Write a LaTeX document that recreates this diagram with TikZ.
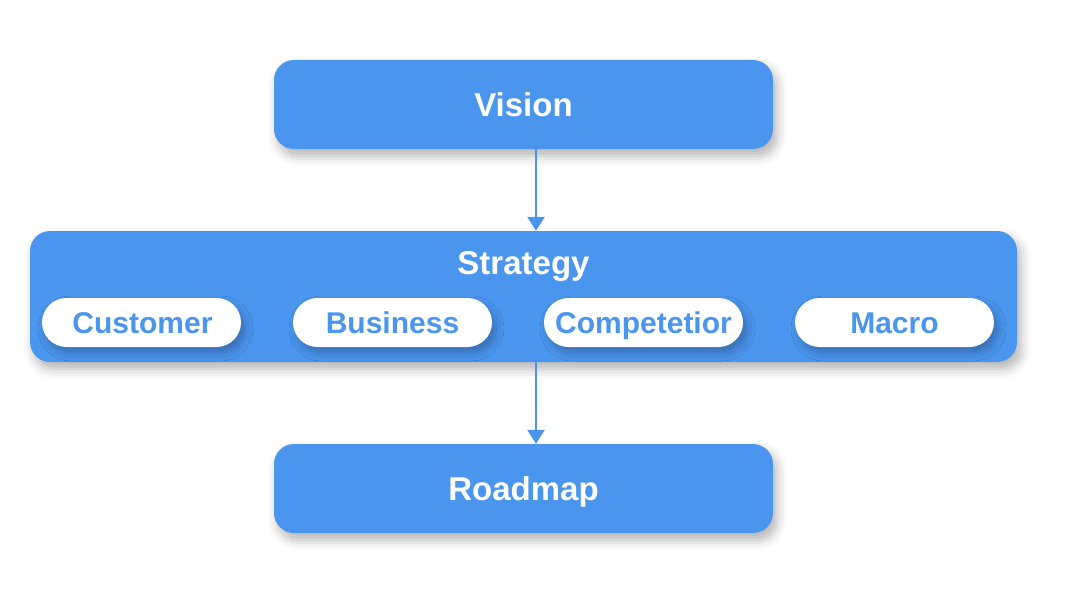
\documentclass[tikz,border=0pt]{standalone}
\usepackage{fontspec}
\setmainfont{Liberation Sans}
\usetikzlibrary{shadows.blur,arrows.meta}
\definecolor{mainblue}{HTML}{4A95EE}
\tikzset{
  bigbox/.style={fill=mainblue, draw=none, rounded corners=20pt, minimum width=499pt, minimum height=89pt,
    blur shadow={shadow xshift=4pt, shadow yshift=-7pt, shadow blur radius=10pt, shadow opacity=30}},
  framebox/.style={fill=mainblue, draw=none, rounded corners=20pt, minimum width=987pt, minimum height=131pt,
    blur shadow={shadow xshift=4pt, shadow yshift=-7pt, shadow blur radius=10pt, shadow opacity=30}},
  pill/.style={fill=white, draw=none, rounded corners=24.5pt, minimum width=199pt, minimum height=49pt,
    blur shadow={shadow xshift=4pt, shadow yshift=-6pt, shadow blur radius=8pt, shadow opacity=25}},
  pilltext/.style={text=mainblue, font=\fontsize{30pt}{34pt}\selectfont\bfseries, inner sep=0pt, anchor=base},
  boxlabel/.style={text=white, font=\fontsize{33pt}{38pt}\selectfont\bfseries, inner sep=0pt, anchor=base},
  flow/.style={draw=mainblue, line width=2.7pt, -{Triangle[width=17pt,length=14pt]}}
}
\begin{document}
\begin{tikzpicture}[x=1pt,y=-1pt]
\useasboundingbox (0,0) rectangle (1071,594);
\node[bigbox] (vision) at (523.5,104.5) {};
\node[boxlabel] (visionlbl) at (523.5,116) {Vision};
\node[framebox] (strategy) at (523.5,296.5) {};
\node[boxlabel] (strategylbl) at (523.5,274) {Strategy};
\node[pill] (customer) at (141.5,322.5) {};
\node[pill] (business) at (392.5,322.5) {};
\node[pill] (competition) at (643.5,322.5) {};
\node[pill] (macro) at (894.5,322.5) {};
\node[pilltext] (customerlbl) at (142.5,333) {Customer};
\node[pilltext] (businesslbl) at (392.5,333) {Business};
\node[pilltext] (competitionlbl) at (643.5,333) {Competetior};
\node[pilltext] (macrolbl) at (894.5,333) {Macro};
\node[bigbox] (roadmap) at (523.5,488.5) {};
\node[boxlabel] (roadmaplbl) at (523.5,500) {Roadmap};
\draw[flow] (vision.south -| 536,0) -- (strategy.north -| 536,0);
\draw[flow] (strategy.south -| 536,0) -- (roadmap.north -| 536,0);
\end{tikzpicture}
\end{document}
